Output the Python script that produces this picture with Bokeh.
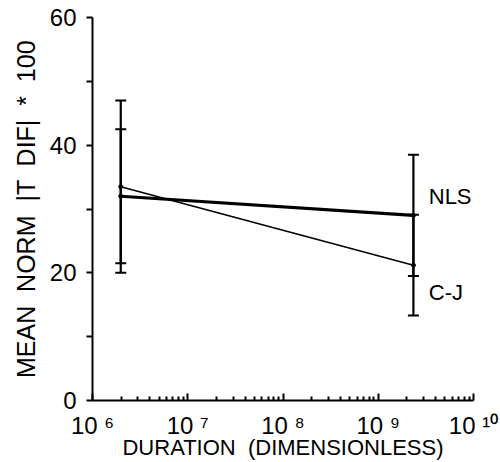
from bokeh.plotting import figure
from bokeh.models import (ColumnDataSource, FixedTicker, LabelSet, Whisker, TeeHead, Range1d)
from bokeh.core.properties import value
from bokeh.embed import file_html
from bokeh.resources import INLINE

FONT = "Liberation Sans"
SP = " \u00a0"  # a wide (double) space that SVG text keeps

# ---- data ----
durations = [1.98e6, 2.34e9]
nls_mean = [32.0, 29.0]
nls_err = [10.5, 9.5]
cj_mean = [33.5, 21.2]
cj_err = [13.5, 7.9]
series_names = ["NLS", "C-J"]
label_y = [32.0, 16.9]
label_x = [3.39e9, 3.39e9]

y_ticks = [0, 20, 40, 60]
y_minor = [10, 30, 50]
x_decades = [1e6, 1e7, 1e8, 1e9, 1e10]
x_tick_labels = ["10 \u2076", "10 \u2077", "10 \u2078", "10 \u2079", "10 \u00b9\u2070"]
x_minor = [m * d for d in [1e6, 1e7, 1e8, 1e9] for m in range(2, 10)]

p = figure(width=500, height=462, x_axis_type="log",
           x_range=Range1d(1e6, 1e10), y_range=Range1d(0, 60),
           output_backend="svg", toolbar_location=None,
           min_border_left=92, min_border_right=27, min_border_top=17, min_border_bottom=61)
p.grid.visible = False
p.outline_line_color = None
p.background_fill_color = "white"
p.border_fill_color = "white"

# y axis
ya = p.yaxis[0]
ya.ticker = FixedTicker(ticks=y_ticks, minor_ticks=y_minor)
ya.axis_line_width = 2
ya.major_tick_line_width = 2
ya.minor_tick_line_width = 2
ya.major_tick_out = 6
ya.major_tick_in = 0
ya.minor_tick_out = 6
ya.minor_tick_in = 0
ya.major_label_standoff = 10
ya.major_label_text_font = FONT
ya.major_label_text_font_size = "24px"
ya.major_label_text_color = "black"
ya.axis_label = SP.join(["MEAN", "NORM", "|T", "DIF|", "*", "100"])
ya.axis_label_text_font = FONT
ya.axis_label_text_font_size = "25px"
ya.axis_label_text_font_style = "normal"
ya.axis_label_standoff = 7
ya.axis_label_text_color = "black"

# x axis
xa = p.xaxis[0]
xa.ticker = FixedTicker(ticks=x_decades, minor_ticks=x_minor)
xa.major_label_overrides = {t: s for t, s in zip(x_decades, x_tick_labels)}
xa.axis_line_width = 2
xa.major_tick_line_width = 2
xa.minor_tick_line_width = 2
xa.major_tick_in = 7
xa.major_tick_out = 0
xa.minor_tick_in = 4
xa.minor_tick_out = 0
xa.major_label_text_font = FONT
xa.major_label_text_font_size = "24px"
xa.major_label_text_color = "black"
xa.major_label_standoff = 11
xa.axis_label = SP.join(["DURATION", "(DIMENSIONLESS)"])
xa.axis_label_text_font = FONT
xa.axis_label_text_font_size = "22px"
xa.axis_label_text_font_style = "normal"
xa.axis_label_standoff = -7
xa.axis_label_text_color = "black"

# error bars
nls_src = ColumnDataSource(dict(x=durations, y=nls_mean,
                                lo=[m - e for m, e in zip(nls_mean, nls_err)],
                                hi=[m + e for m, e in zip(nls_mean, nls_err)]))
cj_src = ColumnDataSource(dict(x=durations, y=cj_mean,
                               lo=[m - e for m, e in zip(cj_mean, cj_err)],
                               hi=[m + e for m, e in zip(cj_mean, cj_err)]))
for src in (nls_src, cj_src):
    p.add_layout(Whisker(base="x", upper="hi", lower="lo", source=src,
                         line_width=2.2, line_color="black",
                         upper_head=TeeHead(size=11, line_width=2, line_color="black"),
                         lower_head=TeeHead(size=11, line_width=2, line_color="black")))

# lines
p.line("x", "y", source=nls_src, line_width=3.2, line_color="black")
p.line("x", "y", source=cj_src, line_width=1.6, line_color="black")
p.scatter("x", "y", source=nls_src, size=4, color="black")
p.scatter("x", "y", source=cj_src, size=4, color="black")

# series labels
lsrc = ColumnDataSource(dict(x=label_x, y=label_y, t=series_names))
p.add_layout(LabelSet(x="x", y="y", text="t", source=lsrc, text_align="left",
                      text_baseline="middle", text_font=value(FONT),
                      text_font_size="22px", text_color="black"))

open("out.html", "w").write(file_html(p, INLINE))
